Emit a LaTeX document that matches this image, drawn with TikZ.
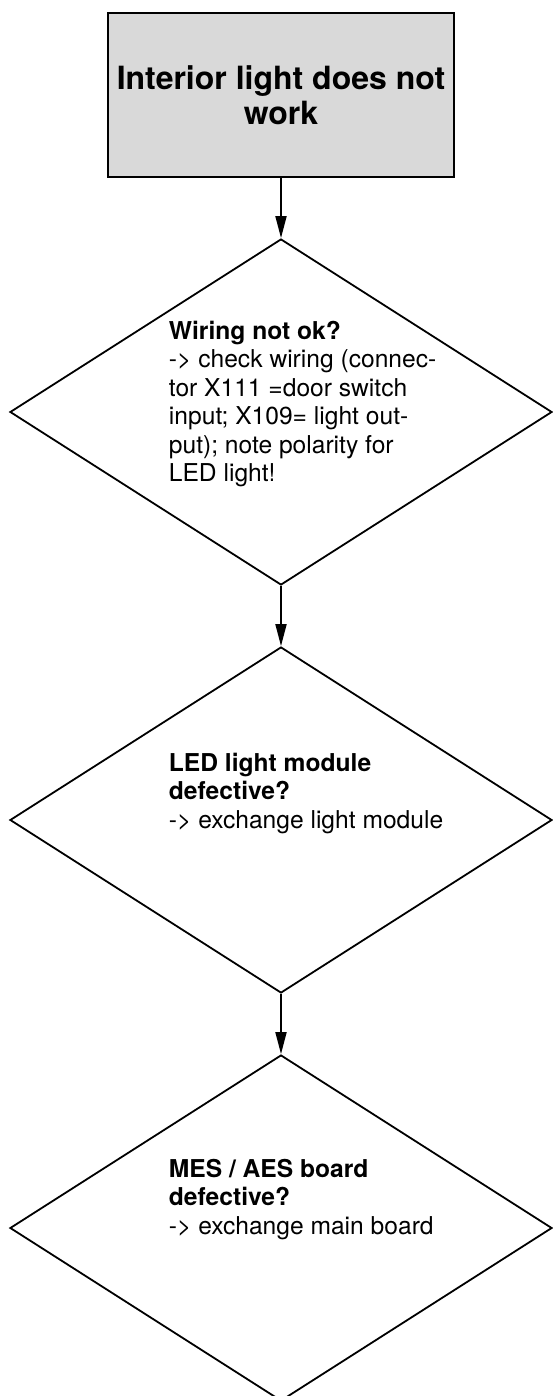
\documentclass[tikz,border=0pt]{standalone}
\usepackage{fontspec}
\setmainfont{TeX Gyre Heros}
\usetikzlibrary{shapes.geometric,arrows.meta}
\definecolor{boxgray}{RGB}{217,217,217}

\begin{document}
\begin{tikzpicture}[x=1pt,y=-1pt,line width=1.8pt,
    startbox/.style={draw,fill=boxgray,minimum width=346pt,minimum height=164pt,
        inner sep=0pt,align=center,font=\bfseries\fontsize{32}{35}\selectfont},
    question/.style={draw,diamond,minimum width=542pt,minimum height=346pt,inner sep=0pt},
    qtext/.style={anchor=north west,inner sep=0pt,align=left,
        font=\fontsize{24.6}{28.5}\selectfont},
    flow/.style={-{Triangle[length=22pt,width=11pt]}}]
    \useasboundingbox (0,0) rectangle (553,1396);

    % start box and the three checks
    \node[startbox] (start) at (281,95) {Interior light does not\\work};
    \node[question] (wiring) at (281,412) {};
    \node[question] (led) at (281,820) {};
    \node[question] (board) at (281,1228) {};

    \node[qtext] (wiringtxt) at (168,320) {\textbf{Wiring not ok?}\\
        -> check wiring (connec-\\tor X111 =door switch\\
        input; X109= light out-\\put); note polarity for\\LED light!};
    \node[qtext] (ledtxt) at (168,752) {\textbf{LED light module}\\
        \textbf{defective?}\\-> exchange light module};
    \node[qtext] (boardtxt) at (168,1158) {\textbf{MES / AES board}\\
        \textbf{defective?}\\-> exchange main board};

    \draw[flow] (start) -- (wiring);
    \draw[flow] (wiring) -- (led);
    \draw[flow] (led) -- (board);
\end{tikzpicture}
\end{document}
